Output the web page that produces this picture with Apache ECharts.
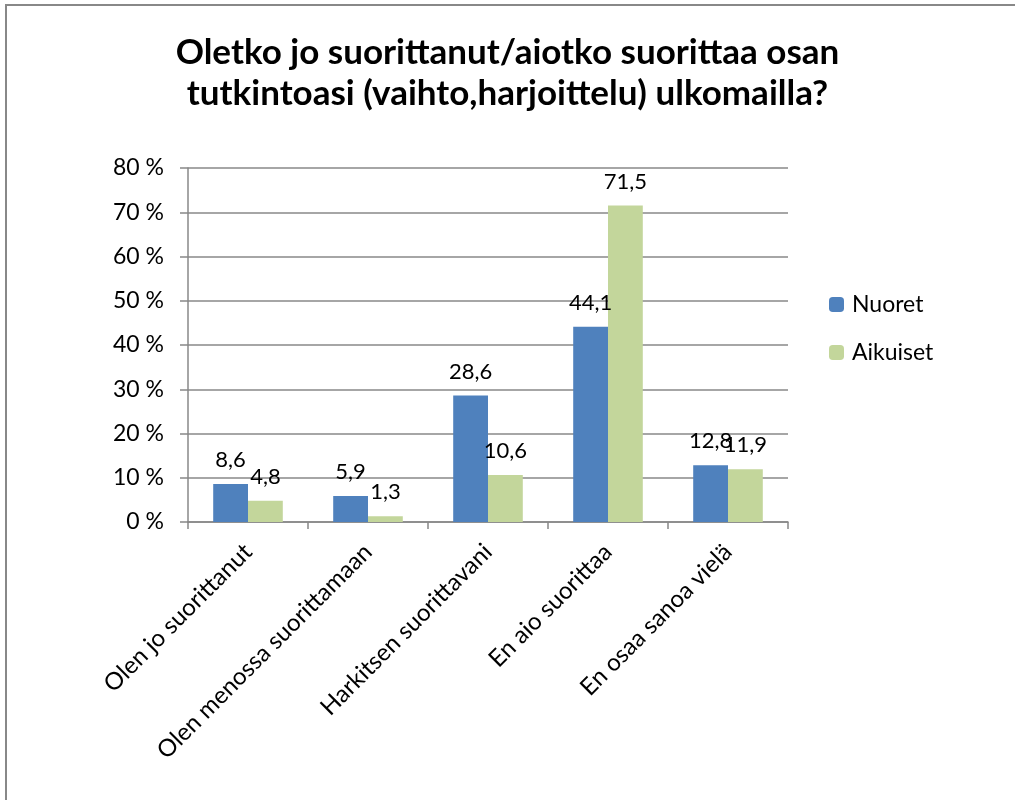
<!DOCTYPE html>
<html>
<head>
<meta charset="utf-8">
<script src="https://cdn.jsdelivr.net/npm/echarts@6/dist/echarts.min.js"></script>
<style>
  html, body { margin: 0; padding: 0; background: #fff; overflow: hidden; }
  #chart { width: 1015px; height: 800px; }
</style>
</head>
<body>
<div id="chart"></div>
<script>
const categories = ['Olen jo suorittanut', 'Olen menossa suorittamaan', 'Harkitsen suorittavani', 'En aio suorittaa', 'En osaa sanoa vielä']
const nuoret = [8.6, 5.9, 28.6, 44.1, 12.8]
const aikuiset = [4.8, 1.3, 10.6, 71.5, 11.9]
const yTicks = { min: 0, max: 80, interval: 10 }

const font = 'Lato, "Open Sans", sans-serif'
const chart = echarts.init(document.getElementById('chart'))

const valueLabel = {
  show: true,
  position: 'top',
  distance: 13,
  color: '#000',
  fontFamily: font,
  fontSize: 22,
  formatter: p => String(p.value).replace('.', ',')
}

chart.setOption({
  animation: false,
  title: {
    text: 'Oletko jo suorittanut/aiotko suorittaa osan\ntutkintoasi (vaihto,harjoittelu) ulkomailla?',
    left: 'center',
    top: 27,
    textStyle: { fontFamily: font, fontSize: 35, fontWeight: 'bold', color: '#000', lineHeight: 41 }
  },
  legend: {
    orient: 'vertical',
    left: 824,
    top: 288,
    itemWidth: 15,
    itemHeight: 15,
    itemGap: 25,
    textStyle: { fontFamily: font, fontSize: 23, color: '#000', padding: [0, 0, 0, 3] },
    data: ['Nuoret', 'Aikuiset']
  },
  grid: { left: 188, right: 227, top: 168, bottom: 278, containLabel: false },
  xAxis: {
    type: 'category',
    data: categories,
    axisLine: { lineStyle: { color: '#888', width: 1.5 } },
    axisTick: { show: true, length: 7, lineStyle: { color: '#888', width: 1.5 } },
    axisLabel: { rotate: 45, interval: 0, margin: 26, color: '#000', fontFamily: font, fontSize: 24 }
  },
  yAxis: {
    type: 'value',
    min: yTicks.min,
    max: yTicks.max,
    interval: yTicks.interval,
    axisLine: { show: true, lineStyle: { color: '#888', width: 1.5 } },
    axisTick: { show: true, length: 8, lineStyle: { color: '#888', width: 1.5 } },
    splitLine: { lineStyle: { color: '#888', width: 1.5 } },
    axisLabel: { formatter: '{value} %', margin: 24, color: '#000', fontFamily: font, fontSize: 23 }
  },
  series: [
    {
      name: 'Nuoret',
      type: 'bar',
      data: nuoret,
      barGap: '0%',
      barCategoryGap: '42%',
      itemStyle: { color: '#4F81BD' },
      label: valueLabel
    },
    {
      name: 'Aikuiset',
      type: 'bar',
      data: aikuiset,
      itemStyle: { color: '#C3D69B' },
      label: valueLabel
    }
  ],
  // outer chart frame: only left and top edges fall inside the picture
  graphic: [{
    type: 'polyline',
    shape: { points: [[6, 900], [6, 5], [1100, 5]] },
    style: { fill: null, stroke: '#888', lineWidth: 2 },
    silent: true
  }]
})
</script>
</body>
</html>
